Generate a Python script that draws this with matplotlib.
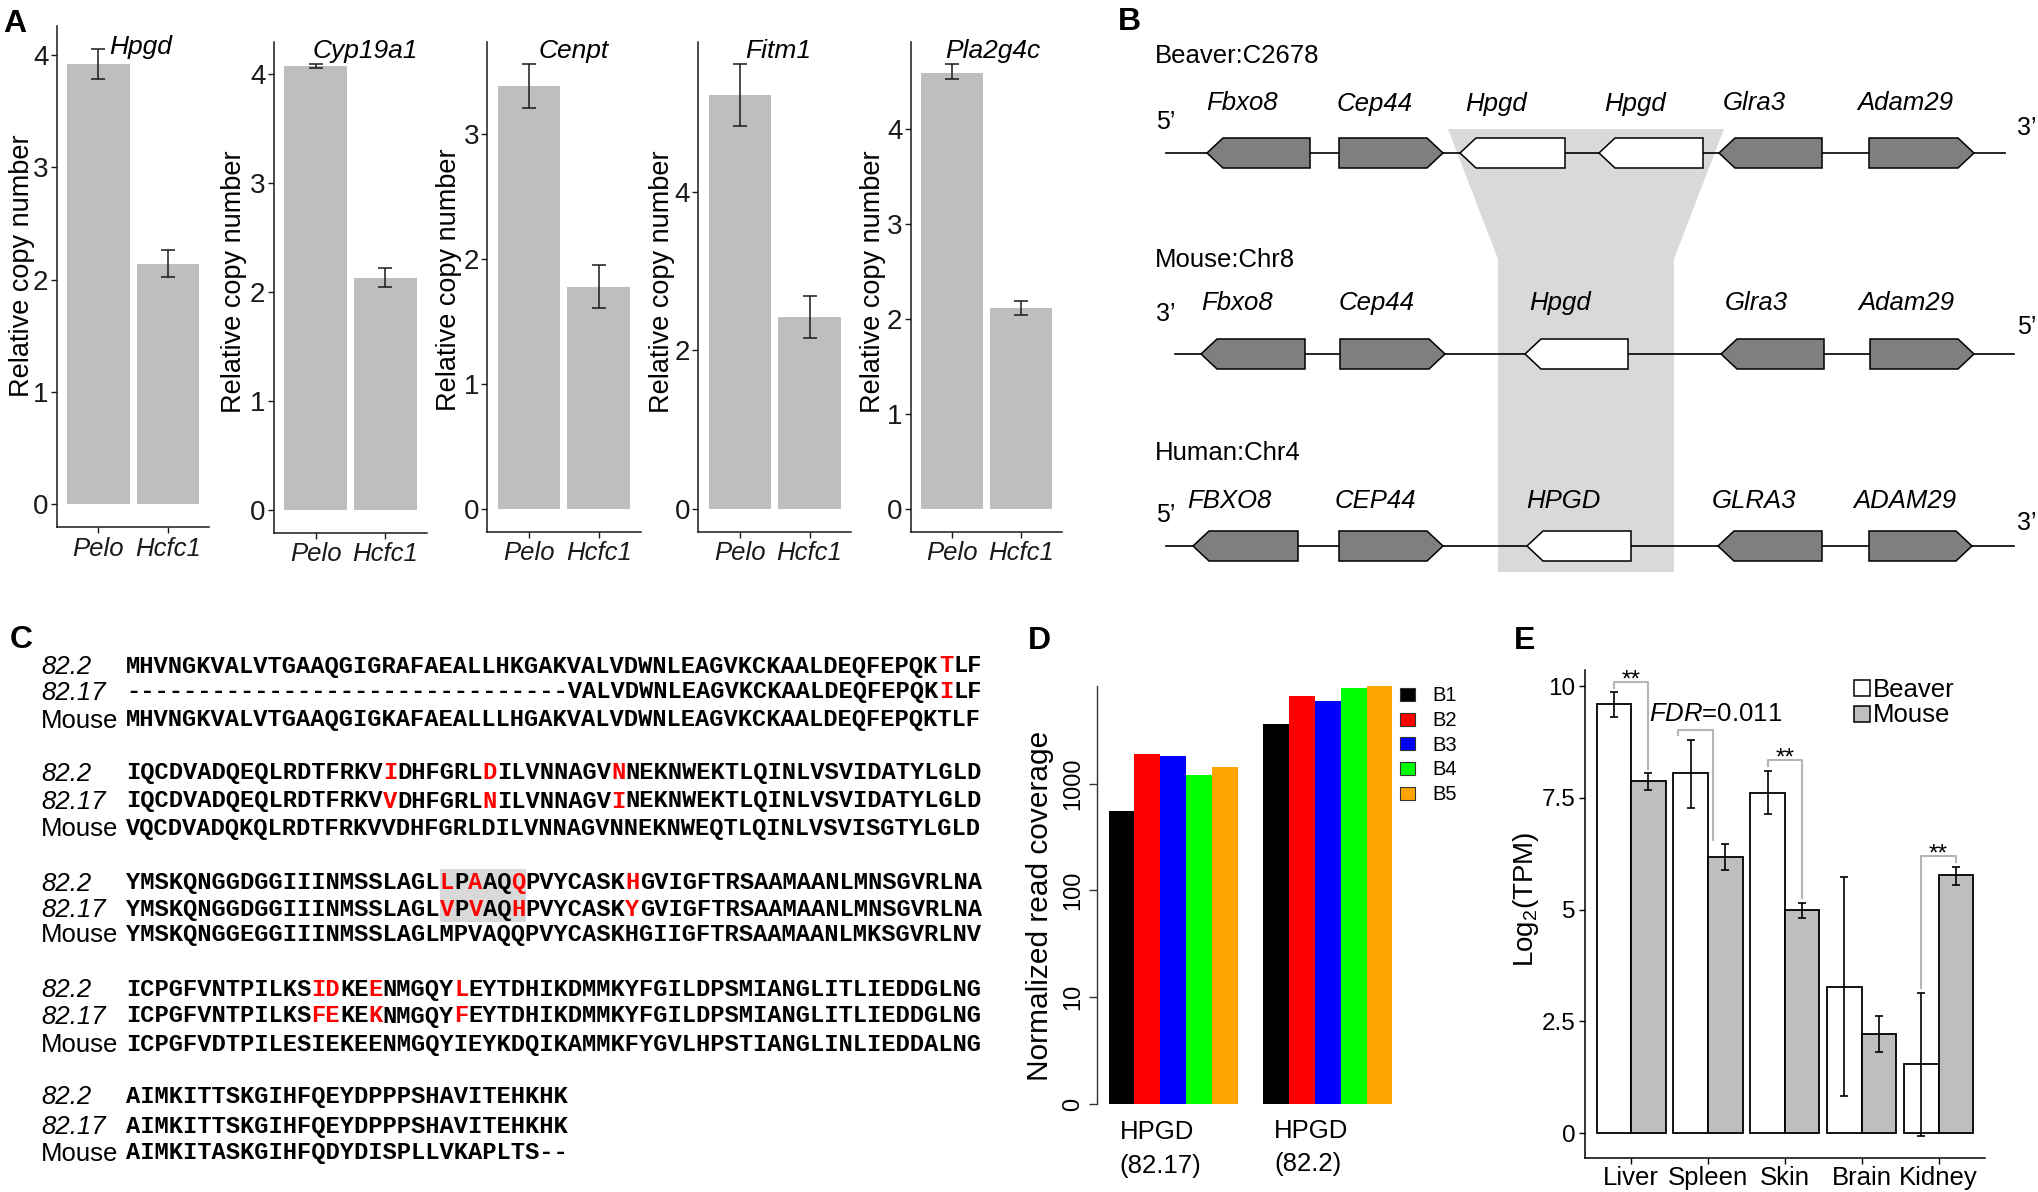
import matplotlib
matplotlib.use('Agg')
import matplotlib.pyplot as plt
from matplotlib.patches import Polygon, Rectangle
from matplotlib.transforms import blended_transform_factory
import numpy as np

W, H = 2038, 1192
plt.rcParams['font.family'] = ['Liberation Sans', 'DejaVu Sans']
plt.rcParams['mathtext.fontset'] = 'custom'
plt.rcParams['mathtext.rm'] = 'Liberation Sans'
plt.rcParams['mathtext.it'] = 'Liberation Sans:italic'

# ------------------------------------------------------------------ data
# Panel A
A_genes = ['Hpgd', 'Cyp19a1', 'Cenpt', 'Fitm1', 'Pla2g4c']
A_groups = ['Pelo', 'Hcfc1']
A_mean = [[3.918, 2.143], [4.068, 2.132], [3.391, 1.783], [5.219, 2.419], [4.595, 2.119]]
A_lo = [[3.786, 2.025], [4.054, 2.044], [3.213, 1.611], [4.823, 2.153], [4.525, 2.041]]
A_hi = [[4.056, 2.268], [4.088, 2.223], [3.563, 1.955], [5.605, 2.684], [4.684, 2.196]]
A_yticks = [[0, 1, 2, 3, 4], [0, 1, 2, 3, 4], [0, 1, 2, 3], [0, 2, 4], [0, 1, 2, 3, 4]]

# Panel B (diagram units)
B_species = ['Beaver:C2678', 'Mouse:Chr8', 'Human:Chr4']
B_genes = [['Fbxo8', 'Cep44', 'Hpgd', 'Hpgd', 'Glra3', 'Adam29'],
           ['Fbxo8', 'Cep44', 'Hpgd', 'Glra3', 'Adam29'],
           ['FBXO8', 'CEP44', 'HPGD', 'GLRA3', 'ADAM29']]
B_start = [[107, 239, 360, 499, 619, 769], [101, 240, 425, 621, 770], [93, 239, 427, 618, 769]]
B_end = [[210, 343, 465, 603, 722, 874], [205, 345, 528, 724, 874], [198, 343, 531, 722, 872]]
B_strand = [[-1, 1, -1, -1, -1, 1], [-1, 1, -1, -1, 1], [-1, 1, -1, -1, 1]]
B_target = [[0, 0, 1, 1, 0, 0], [0, 0, 1, 0, 0], [0, 0, 1, 0, 0]]
B_span = [(66, 905), (75, 914), (66, 914)]
B_ends = [("5\u2019", "3\u2019"), ("3\u2019", "5\u2019"), ("5\u2019", "3\u2019")]
B_band_top = (348, 624)
B_band_mid = (398, 574)

# Panel C
C_names = ['82.2', '82.17', 'Mouse']
C_blocks = [
    ['MHVNGKVALVTGAAQGIGRAFAEALLHKGAKVALVDWNLEAGVKCKAALDEQFEPQKTLF',
     '-------------------------------VALVDWNLEAGVKCKAALDEQFEPQKILF',
     'MHVNGKVALVTGAAQGIGKAFAEALLLHGAKVALVDWNLEAGVKCKAALDEQFEPQKTLF'],
    ['IQCDVADQEQLRDTFRKVIDHFGRLDILVNNAGVNNEKNWEKTLQINLVSVIDATYLGLD',
     'IQCDVADQEQLRDTFRKVVDHFGRLNILVNNAGVINEKNWEKTLQINLVSVIDATYLGLD',
     'VQCDVADQKQLRDTFRKVVDHFGRLDILVNNAGVNNEKNWEQTLQINLVSVISGTYLGLD'],
    ['YMSKQNGGDGGIIINMSSLAGLLPAAQQPVYCASKHGVIGFTRSAAMAANLMNSGVRLNA',
     'YMSKQNGGDGGIIINMSSLAGLVPVAQHPVYCASKYGVIGFTRSAAMAANLMNSGVRLNA',
     'YMSKQNGGEGGIIINMSSLAGLMPVAQQPVYCASKHGIIGFTRSAAMAANLMKSGVRLNV'],
    ['ICPGFVNTPILKSIDKEENMGQYLEYTDHIKDMMKYFGILDPSMIANGLITLIEDDGLNG',
     'ICPGFVNTPILKSFEKEKNMGQYFEYTDHIKDMMKYFGILDPSMIANGLITLIEDDGLNG',
     'ICPGFVDTPILESIEKEENMGQYIEYKDQIKAMMKFYGVLHPSTIANGLINLIEDDALNG'],
    ['AIMKITTSKGIHFQEYDPPPSHAVITEHKHK',
     'AIMKITTSKGIHFQEYDPPPSHAVITEHKHK',
     'AIMKITASKGIHFQDYDISPLLVKAPLTS--'],
]
C_red = [[[57], [57]], [[18, 25, 34], [18, 25, 34]], [[22, 24, 27, 35], [22, 24, 27, 35]],
         [[13, 14, 17, 23], [13, 14, 17, 23]], [[], []]]
C_box = (2, 22, 28)  # block, first residue, last residue (exclusive)

# Panel D
D_groups = ['HPGD\n(82.17)', 'HPGD\n(82.2)']
D_samples = ['B1', 'B2', 'B3', 'B4', 'B5']
D_colors = ['#000000', '#FF0000', '#0000FF', '#00FF00', '#FFA500']
D_cov = [[557, 1887, 1811, 1216, 1419], [3648, 6548, 5943, 7903, 8226]]
D_ticks = [0, 1, 2, 3]
D_ticklabels = ['0', '10', '100', '1000']

# Panel E
E_tissues = ['Liver', 'Spleen', 'Skin', 'Brain', 'Kidney']
E_beaver = [9.60, 8.05, 7.62, 3.27, 1.54]
E_beaver_lo = [9.31, 7.28, 7.14, 0.82, -0.06]
E_beaver_hi = [9.87, 8.80, 8.11, 5.72, 3.14]
E_mouse = [7.87, 6.18, 4.99, 2.21, 5.77]
E_mouse_lo = [7.67, 5.89, 4.81, 1.81, 5.56]
E_mouse_hi = [8.05, 6.46, 5.16, 2.63, 5.96]
E_sig = [(0, -0.225, 0.225, '**'), (1, -0.39, 0.066, ''), (2, -0.225, 0.225, '**'), (4, -0.225, 0.225, '**')]
E_yticks = [0, 2.5, 5, 7.5, 10]
E_yticklabels = ['0', '2.5', '5', '7.5', '10']

# ------------------------------------------------------------------ figure
fig = plt.figure(figsize=(W / 100, H / 100), dpi=100)
fig.patch.set_facecolor('white')


def rect(l, t, r, b):
    return [l / W, 1 - b / H, (r - l) / W, (b - t) / H]


ov = fig.add_axes([0, 0, 1, 1])
ov.set_xlim(0, W)
ov.set_ylim(H, 0)
ov.axis('off')

# panel letters
for lab, x, y in [('A', 3, 32), ('B', 1118, 30), ('C', 10, 648), ('D', 1028, 649), ('E', 1514, 649)]:
    ov.text(x, y, lab, fontsize=23, fontweight='bold', ha='left', va='baseline')

# ------------------------------------------------------------------ panel A
A_boxes = [(56.8, 25.9, 209.4, 527.2), (273.8, 41.8, 427.0, 532.7), (487.3, 41.8, 640.5, 531.6),
           (698.4, 41.8, 851.3, 531.6), (910.8, 41.8, 1062.0, 531.6)]
A_title_xy = [(141, 54), (365, 58), (574, 58), (778, 58), (993, 58)]
A_ylab_xy = [(22, 266), (234, 282), (449, 280), (662, 282), (873, 282)]
for k in range(5):
    ax = fig.add_axes(rect(*A_boxes[k]))
    ax.patch.set_alpha(0)
    x = np.arange(1, 3)
    m = np.array(A_mean[k])
    lo = np.array(A_lo[k])
    hi = np.array(A_hi[k])
    ax.bar(x, m, width=0.9, color='#BEBEBE', zorder=2)
    ax.errorbar(x, m, yerr=[m - lo, hi - m], fmt='none', ecolor='#1a1a1a', elinewidth=1.1,
                capsize=5, capthick=1.1, zorder=3)
    top = hi.max()
    ax.set_ylim(-0.05 * top, 1.05 * top)
    ax.set_xlim(0.4, 2.6)
    ax.set_yticks(A_yticks[k])
    ax.set_yticklabels([str(v) for v in A_yticks[k]])
    ax.set_xticks(x)
    ax.set_xticklabels(A_groups, style='italic')
    ax.tick_params(axis='y', labelsize=20, length=4, width=1, pad=2, colors='#1a1a1a')
    ax.tick_params(axis='x', labelsize=18.5, length=4, width=1, pad=3, colors='#1a1a1a')
    for s in ['top', 'right']:
        ax.spines[s].set_visible(False)
    for s in ['left', 'bottom']:
        ax.spines[s].set_linewidth(1.1)
        ax.spines[s].set_color('#1a1a1a')
    ov.text(*A_title_xy[k], A_genes[k], style='italic', fontsize=19, ha='center', va='baseline')
    ov.text(*A_ylab_xy[k], 'Relative copy number', rotation=90, fontsize=19.5, ha='center', va='center')

# ------------------------------------------------------------------ panel B
BX = 1100
row_y = [153, 354, 546]
lab_y = [103.5, 303, 501.5]
sp_y = [56.4, 259.6, 453.3]
end_y = [(122, 128), (314, 327), (515, 523)]
hh = 15
tip = 16
band = Polygon([(BX + B_band_top[0], 129), (BX + B_band_top[1], 129), (BX + B_band_mid[1], 259),
                (BX + B_band_mid[1], 572), (BX + B_band_mid[0], 572), (BX + B_band_mid[0], 259)],
               closed=True, facecolor='#d9d9d9', edgecolor='none', zorder=1)
ov.add_patch(band)
for r in range(3):
    y = row_y[r]
    ov.plot([BX + B_span[r][0], BX + B_span[r][1]], [y, y], color='black', lw=1.2, zorder=2)
    ov.text(BX + 55, sp_y[r], B_species[r], fontsize=18.5, ha='left', va='center')
    ov.text(BX + 66, end_y[r][0], B_ends[r][0], fontsize=18, ha='center', va='center')
    ov.text(BX + 927, end_y[r][1], B_ends[r][1], fontsize=18, ha='center', va='center')
    for g in range(len(B_genes[r])):
        s = BX + B_start[r][g]
        e = BX + B_end[r][g]
        if B_strand[r][g] < 0:
            pts = [(s, y), (s + tip, y - hh), (e, y - hh), (e, y + hh), (s + tip, y + hh)]
        else:
            pts = [(s, y - hh), (e - tip, y - hh), (e, y), (e - tip, y + hh), (s, y + hh)]
        fc = 'white' if B_target[r][g] else '#7f7f7f'
        ov.add_patch(Polygon(pts, closed=True, facecolor=fc, edgecolor='black', lw=1.1, zorder=3))
        ov.text((s + e) / 2 - 16, lab_y[r], B_genes[r][g], style='italic', fontsize=18.5,
                ha='center', va='center')

# ------------------------------------------------------------------ panel C
adv = 14.27
seq_x0 = 126
name_x = 41
C_rows = [[665, 690.5, 718.5], [771.7, 800, 827], [881.7, 908.3, 933.3],
          [988.3, 1015, 1043.3], [1095, 1125, 1151.7]]
fs_seq = adv / 0.6 * 0.72
bb, c0, c1 = C_box
ov.add_patch(Rectangle((seq_x0 + c0 * adv, C_rows[bb][0] - 12.4), (c1 - c0) * adv,
                       C_rows[bb][1] - C_rows[bb][0] + 25.8, facecolor='#d9d9d9',
                       edgecolor='none', zorder=1))
mono = dict(family='Liberation Mono', fontweight='bold', fontsize=fs_seq, ha='left', va='baseline', zorder=3)
for b in range(5):
    for r in range(3):
        yb = C_rows[b][r] + 7.5
        ov.text(name_x, C_rows[b][r] + 9, C_names[r], fontsize=18.5,
                style=('normal' if r == 2 else 'italic'), ha='left', va='baseline')
        seq = C_blocks[b][r]
        reds = C_red[b][r] if r < 2 else []
        # split into runs of same colour so that no texts overlap
        runs = []
        i = 0
        while i < len(seq):
            red = i in reds
            j = i
            while j < len(seq) and ((j in reds) == red):
                j += 1
            runs.append((i, seq[i:j], red))
            i = j
        for (i0, txt, red) in runs:
            ov.text(seq_x0 + i0 * adv, yb, txt, color=('#FF0000' if red else 'black'), **mono)

# ------------------------------------------------------------------ panel D
axD = fig.add_axes(rect(1097.2, 669.3, 1403.8, 1121.1))
axD.patch.set_alpha(0)
ns = len(D_samples)
vals = np.log10(np.array(D_cov, dtype=float))
for gi in range(len(D_groups)):
    start = gi * (ns + 1) + 1
    xs = start + np.arange(ns) + 0.5
    axD.bar(xs, vals[gi], width=1.0, color=D_colors, edgecolor='none')
axD.set_xlim(0.56, 12.44)
axD.set_ylim(-0.16, 4.07)
for s in ['top', 'right', 'bottom']:
    axD.spines[s].set_visible(False)
axD.spines['left'].set_bounds(0, vals.max())
axD.spines['left'].set_linewidth(1.0)
axD.spines['left'].set_color('#333333')
axD.set_xticks([])
axD.set_yticks(D_ticks)
axD.set_yticklabels(D_ticklabels, rotation=90, va='center')
axD.tick_params(axis='y', labelsize=17, length=5.5, width=1, pad=4, colors='#333333')
for lbl in axD.get_yticklabels():
    lbl.set_color('black')
ov.text(1040, 906, 'Normalized read coverage', rotation=90, fontsize=21.5, ha='center', va='center')
bt = blended_transform_factory(axD.transData, ov.transData)
for gi, g in enumerate(D_groups):
    l1, l2 = g.split('\n')
    xl = gi * (ns + 1) + 1 + 0.42
    axD.text(xl, 1139 - 1.5 * gi, l1, transform=bt, fontsize=18.5, ha='left', va='baseline')
    axD.text(xl, 1173 - 1.5 * gi, l2, transform=bt, fontsize=18.5, ha='left', va='baseline')
for i, (lab, col) in enumerate(zip(D_samples, D_colors)):
    yc = 694.4 + 24.7 * i
    ov.add_patch(Rectangle((1399.7, yc - 6.5), 15, 13, facecolor=col, edgecolor='#333333', lw=0.8))
    ov.text(1432.8, yc + 6.8, lab, fontsize=14.5, ha='left', va='baseline')

# ------------------------------------------------------------------ panel E
axE = fig.add_axes(rect(1585.1, 669.8, 1984.6, 1158.0))
axE.patch.set_alpha(0)
xe = np.arange(len(E_tissues))
bw = 0.45
bv = np.array(E_beaver); mv = np.array(E_mouse)
axE.bar(xe - bw / 2, bv, width=bw, color='white', edgecolor='black', lw=1.3, zorder=2)
axE.bar(xe + bw / 2, mv, width=bw, color='#BEBEBE', edgecolor='black', lw=1.3, zorder=2)
axE.errorbar(xe - bw / 2, bv, yerr=[bv - np.array(E_beaver_lo), np.array(E_beaver_hi) - bv], fmt='none',
             ecolor='black', elinewidth=1.2, capsize=2.9, capthick=1.2, zorder=3)
axE.errorbar(xe + bw / 2, mv, yerr=[mv - np.array(E_mouse_lo), np.array(E_mouse_hi) - mv], fmt='none',
             ecolor='black', elinewidth=1.2, capsize=2.9, capthick=1.2, zorder=3)
allv = np.concatenate([E_beaver_lo, E_beaver_hi, E_mouse_lo, E_mouse_hi])
rng = allv.max() - allv.min()
axE.set_ylim(allv.min() - 0.05 * rng, allv.max() + 0.05 * rng)
axE.set_xlim(-0.6, len(E_tissues) - 0.4)
axE.set_xticks(xe)
axE.set_xticklabels(E_tissues)
axE.set_yticks(E_yticks)
axE.set_yticklabels(E_yticklabels)
axE.tick_params(axis='x', labelsize=18.5, length=4, width=1, pad=2)
axE.tick_params(axis='y', labelsize=17.5, length=4, width=1, pad=3)
for s in ['top', 'right']:
    axE.spines[s].set_visible(False)
for s in ['left', 'bottom']:
    axE.spines[s].set_linewidth(1.1)
for (ti, dl, dr, lab) in E_sig:
    ytop = max(E_beaver_hi[ti], E_mouse_hi[ti]) + 0.23
    xl, xr = ti + dl, ti + dr
    axE.plot([xl, xl, xr, xr], [E_beaver_hi[ti] + 0.1, ytop, ytop, E_mouse_hi[ti] + 0.1],
             color='#b5b5b5', lw=1.5, zorder=4, clip_on=False)
    if lab:
        axE.text(ti, ytop - 0.1, lab, fontsize=17.5, ha='center', va='baseline', zorder=5)
axE.text(0.232, 9.37, r'$\mathit{FDR}$=0.011', fontsize=18.5, ha='left', va='center')
ov.text(1525.7, 899, r'Log$_2$(TPM)', rotation=90, fontsize=20, ha='center', va='center')
for i, (lab, col) in enumerate([('Beaver', 'white'), ('Mouse', '#BEBEBE')]):
    yc = 688.3 + 25.4 * i
    ov.add_patch(Rectangle((1854.5, yc - 8), 15.5, 16, facecolor=col, edgecolor='black', lw=1.1))
    ov.text(1872.5, yc + 8.8, lab, fontsize=18.5, ha='left', va='baseline')

fig.savefig('out.png', dpi=100, facecolor='white')
